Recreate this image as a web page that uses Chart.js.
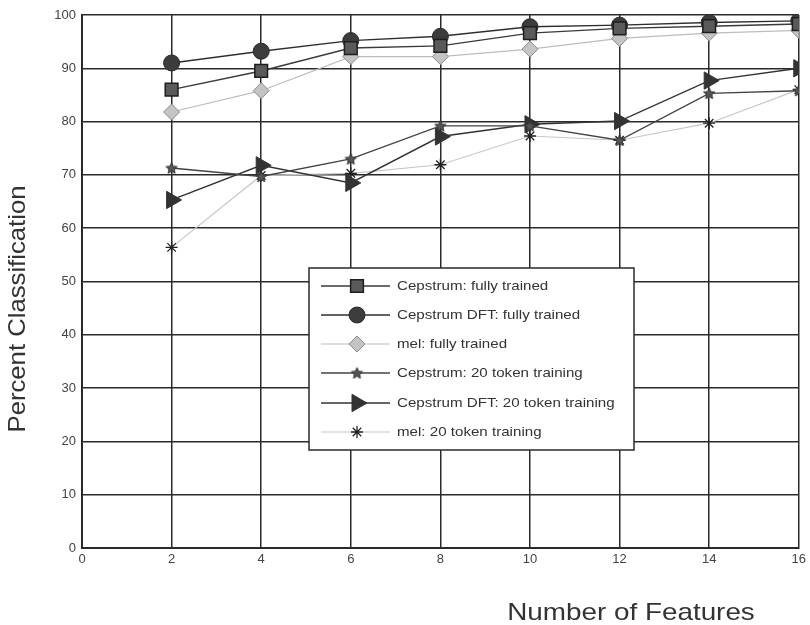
<!DOCTYPE html>
<html>
<head>
<meta charset="utf-8">
<script src="https://cdn.jsdelivr.net/npm/chart.js@4.4.1/dist/chart.umd.min.js"></script>
<style>
  html, body { margin: 0; padding: 0; background: #fff; }
  canvas { display: block; }
</style>
</head>
<body>
<canvas id="chart" width="810" height="625"></canvas>
<script>
// Classification rate vs. number of features
const features = [2, 4, 6, 8, 10, 12, 14, 16];

const cepstrumFull    = [86.0, 89.5, 93.8, 94.2, 96.6, 97.5, 97.9, 98.3];
const cepstrumDftFull = [91.0, 93.2, 95.2, 96.0, 97.8, 98.1, 98.6, 98.9];
const melFull         = [81.8, 85.8, 92.2, 92.2, 93.6, 95.6, 96.6, 97.1];
const cepstrum20      = [71.3, 69.7, 73.0, 79.2, 79.2, 76.5, 85.3, 85.8];
const cepstrumDft20   = [65.3, 71.8, 68.5, 77.2, 79.5, 80.1, 87.7, 90.0];
const mel20           = [56.4, 69.9, 70.3, 71.9, 77.3, 76.5, 79.7, 86.0];

const seriesLabels = [
    'Cepstrum: fully trained',
    'Cepstrum DFT: fully trained',
    'mel: fully trained',
    'Cepstrum: 20 token training',
    'Cepstrum DFT: 20 token training',
    'mel: 20 token training'
];

const xTitle = 'Number of Features';
const yTitle = 'Percent Classification';

const FONT = '"Liberation Sans", Arial, Helvetica, sans-serif';
Chart.defaults.font.family = FONT;

// five-pointed star marker, drawn once into a small canvas
function makeStar(r, fill, stroke) {
    const c = document.createElement('canvas');
    const s = Math.ceil(r * 2 + 3);
    c.width = s;
    c.height = s;
    const g = c.getContext('2d');
    g.translate(s / 2, s / 2 + 0.5);
    g.beginPath();
    for (let i = 0; i < 10; i++) {
        const rad = i % 2 === 0 ? r : r * 0.45;
        const a = -Math.PI / 2 + i * Math.PI / 5;
        g.lineTo(Math.cos(a) * rad, Math.sin(a) * rad);
    }
    g.closePath();
    g.fillStyle = fill;
    g.fill();
    g.strokeStyle = stroke;
    g.lineWidth = 1;
    g.stroke();
    return c;
}

const starMarker = makeStar(6, '#555', '#333');

function toPoints(values) {
    return features.map((f, i) => ({ x: f, y: values[i] }));
}

const styles = [
    { line: '#3a3a3a', width: 1.4, point: 'rect',     radius: 9,  bg: '#5a5a5a', border: '#1e1e1e', bw: 1.5 },
    { line: '#2e2e2e', width: 1.4, point: 'circle',   radius: 8,  bg: '#3c3c3c', border: '#2a2a2a', bw: 1 },
    { line: '#bdbdbd', width: 1.2, point: 'rectRot',  radius: 8,  bg: '#c4c4c4', border: '#8a8a8a', bw: 1 },
    { line: '#444444', width: 1.4, point: starMarker, radius: 6,  bg: '#555', border: '#333', bw: 1 },
    { line: '#333333', width: 1.4, point: 'triangle', radius: 10, bg: '#333', border: '#333', bw: 1, rot: 90 },
    { line: '#c8c8c8', width: 1.2, point: 'star',     radius: 6,  bg: '#222', border: '#222', bw: 1.3 }
];

const seriesData = [cepstrumFull, cepstrumDftFull, melFull, cepstrum20, cepstrumDft20, mel20];

const datasets = seriesData.map((values, i) => {
    const s = styles[i];
    return {
        label: seriesLabels[i],
        data: toPoints(values),
        borderColor: s.line,
        borderWidth: s.width,
        pointStyle: s.point,
        pointRadius: s.radius,
        pointHoverRadius: s.radius,
        pointBackgroundColor: s.bg,
        pointBorderColor: s.border,
        pointBorderWidth: s.bw,
        pointRotation: s.rot || 0,
        tension: 0,
        fill: false
    };
});

// boxed legend inside the plot plus the two axis titles
const annotations = {
    id: 'annotations',
    afterDraw(chart) {
        const ctx = chart.ctx;
        const box = { x: 309, y: 268, w: 325, h: 182 };

        ctx.save();
        ctx.fillStyle = '#fff';
        ctx.fillRect(box.x, box.y, box.w, box.h);
        ctx.strokeStyle = '#2a2a2a';
        ctx.lineWidth = 1.5;
        ctx.strokeRect(box.x, box.y, box.w, box.h);

        const rowY = [286, 315, 344, 373, 403, 432];
        styles.forEach((s, i) => {
            const y = rowY[i];
            ctx.strokeStyle = s.line;
            ctx.lineWidth = s.width;
            ctx.beginPath();
            ctx.moveTo(321, y);
            ctx.lineTo(390, y);
            ctx.stroke();

            ctx.fillStyle = s.bg;
            ctx.strokeStyle = s.border;
            ctx.lineWidth = s.bw;
            Chart.helpers.drawPoint(ctx, {
                pointStyle: s.point,
                radius: s.radius,
                rotation: s.rot || 0,
                borderWidth: s.bw
            }, 357, y);

            ctx.save();
            ctx.translate(397, y);
            ctx.scale(1.12, 1);
            ctx.fillStyle = '#333';
            ctx.font = '13.5px ' + FONT;
            ctx.textAlign = 'left';
            ctx.textBaseline = 'middle';
            ctx.fillText(seriesLabels[i], 0, 0);
            ctx.restore();
        });

        // axis titles
        ctx.fillStyle = '#333';
        ctx.font = '24px ' + FONT;
        ctx.textAlign = 'center';
        ctx.textBaseline = 'alphabetic';

        ctx.save();
        ctx.translate(631, 620);
        ctx.scale(1.16, 1);
        ctx.fillText(xTitle, 0, 0);
        ctx.restore();

        ctx.save();
        ctx.translate(25, 309);
        ctx.rotate(-Math.PI / 2);
        ctx.scale(1.07, 1);
        ctx.fillText(yTitle, 0, 0);
        ctx.restore();

        ctx.restore();
    }
};

new Chart(document.getElementById('chart'), {
    type: 'line',
    data: { datasets },
    options: {
        responsive: false,
        animation: false,
        layout: { padding: { top: 15, right: 8, left: 0, bottom: 0 } },
        plugins: {
            legend: { display: false },
            tooltip: { enabled: false }
        },
        scales: {
            x: {
                type: 'linear',
                min: 0,
                max: 16,
                ticks: { stepSize: 2, color: '#444', font: { size: 13 }, padding: 4 },
                grid: { color: '#2a2a2a', lineWidth: 1.5, drawTicks: false },
                border: { color: '#2a2a2a', width: 2 },
                afterFit(scale) { scale.height = 77; }
            },
            y: {
                min: 0,
                max: 100,
                ticks: { stepSize: 10, color: '#444', font: { size: 13 }, padding: 6 },
                grid: { color: '#2a2a2a', lineWidth: 1.5, drawTicks: false },
                border: { color: '#2a2a2a', width: 2 },
                afterFit(scale) { scale.width = 82; }
            }
        }
    },
    plugins: [annotations]
});
</script>
</body>
</html>
